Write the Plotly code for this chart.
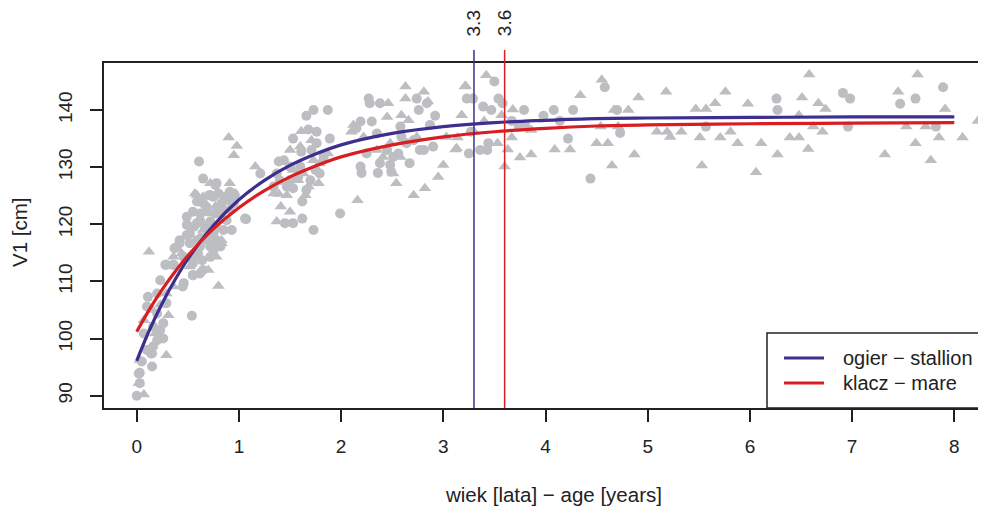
import plotly.graph_objects as go

# ---------------- data ----------------
circle_age = [0.00, 0.03, 0.02, 0.05, 0.10, 0.15, 0.14, 0.20, 0.23, 0.26, 0.16, 0.10, 0.11, 0.20, 0.23,
              0.28, 0.36, 0.29, 0.16, 0.07, 0.20, 0.26, 0.45, 0.39, 0.15, 0.03,
              0.55, 0.55, 0.49, 0.59, 0.62, 0.65, 0.69, 0.72, 0.75, 0.78, 0.82, 0.85, 0.88, 0.91, 0.95,
              0.93, 0.61, 0.65, 0.71, 0.78, 0.54, 0.42, 0.52, 0.60, 0.69, 0.64, 0.67, 0.77, 0.83, 0.80,
              0.86, 0.91, 1.07, 0.56, 0.49, 0.75, 0.59, 0.62, 0.72, 0.82, 0.90, 0.95,
              0.77, 0.72, 0.55, 0.62, 0.49, 0.52, 0.42, 0.37, 0.29, 0.36, 0.46, 0.55, 0.46, 0.55, 0.65,
              0.72, 0.68, 0.78, 0.85, 0.88, 0.96, 1.06, 0.82, 0.75, 0.62, 0.68, 0.59,
              1.21, 1.39, 1.44, 1.53, 1.45, 1.53, 1.62, 1.62, 1.73, 1.66, 1.73, 1.87, 1.68, 1.76, 1.89,
              1.75, 1.79, 1.53, 1.50, 1.58, 1.37, 1.34, 1.99, 1.61, 1.71, 1.83, 1.76, 1.60, 1.50, 1.40,
              1.47, 1.66, 1.70,
              2.15, 2.19, 2.27, 2.28, 2.38, 2.30, 2.19, 2.20, 2.38, 2.36, 2.45, 2.48, 2.49, 2.58, 2.59,
              2.71, 2.77, 2.74, 2.76, 2.92, 2.84, 2.87, 2.81, 2.56, 2.64, 2.51, 2.25, 3.25, 3.23, 3.29,
              2.35, 2.67, 2.90,
              3.50, 3.54, 3.39, 3.47, 3.58, 3.79, 3.98, 4.08, 4.27, 4.14, 4.22, 3.67, 3.80, 3.36, 3.43,
              3.44, 4.44, 4.58, 4.70, 4.73, 6.26, 6.27, 6.91, 6.98, 6.96, 7.47, 7.62, 7.89, 7.82, 5.57,
              3.74, 3.27]
circle_v1 = [90.0, 92.2, 93.9, 96.0, 98.0, 95.1, 97.4, 99.7, 101.5, 100.0, 102.1, 105.6, 107.3, 107.9, 110.2,
             112.9, 112.9, 106.2, 98.6, 100.9, 104.4, 102.7, 109.1, 116.0, 97.4, 94.0,
             111.1, 114.3, 118.1, 120.2, 121.9, 123.7, 122.8, 120.5, 118.4, 117.2, 116.1, 119.0, 120.7, 122.5, 123.7,
             119.0, 131.0, 128.0, 125.1, 127.2, 104.0, 116.7, 116.7, 114.9, 117.2, 113.7, 119.6, 121.9, 123.7, 125.4,
             124.8, 125.7, 120.9, 119.6, 121.3, 124.8, 117.2, 111.4, 116.1, 121.9, 124.2, 125.4,
             126.9, 125.1, 122.2, 120.7, 119.9, 118.4, 117.2, 115.8, 112.9, 112.9, 114.3, 113.2, 109.7, 111.1, 112.0,
             114.3, 117.8, 119.3, 122.5, 124.8, 125.1, 121.0, 116.7, 115.5, 116.1, 123.1, 124.0,
             128.9, 131.0, 131.2, 135.0, 120.2, 120.2, 121.0, 124.0, 119.0, 139.0, 140.0, 140.0, 136.6, 136.2, 135.0,
             129.5, 128.9, 126.3, 127.7, 128.3, 128.9, 126.6, 121.9, 132.7, 133.0, 131.8, 134.2, 130.1, 130.1, 127.7,
             126.6, 126.0, 127.7,
             136.8, 138.0, 142.0, 141.2, 141.2, 138.0, 130.1, 129.0, 130.7, 129.0, 133.0, 130.4, 129.2, 137.1, 135.3,
             134.7, 133.0, 142.0, 140.0, 139.0, 141.2, 137.4, 133.0, 132.4, 134.2, 131.8, 132.4, 132.4, 142.0, 142.0,
             135.9, 130.7, 133.6,
             145.0, 142.0, 140.6, 140.0, 141.2, 140.0, 139.0, 140.0, 140.0, 138.1, 135.0, 138.1, 137.4, 133.0, 133.0,
             134.2, 128.0, 144.0, 140.0, 136.0, 142.0, 140.0, 143.0, 142.0, 137.1, 141.1, 142.0, 144.0, 137.1, 137.1,
             137.1, 136.2]

triangle_age = [0.07, 0.12, 0.02, 0.07, 0.29, 0.31, 0.18, 0.23, 0.15, 0.03, 0.29, 0.36,
                0.59, 0.72, 0.90, 0.98, 0.95, 0.80, 0.78, 0.70, 0.65, 0.82, 0.91, 0.77, 0.62, 0.52,
                0.69, 0.83, 0.44, 0.62, 0.57, 0.65, 0.83, 0.36,
                1.16, 1.37, 1.41, 1.50, 1.47, 1.39, 1.34, 1.61, 1.71, 1.60, 1.50, 1.68, 1.65, 1.53, 1.73,
                1.63, 1.79, 1.87, 1.78, 1.58,
                2.16, 2.46, 2.63, 2.63, 2.81, 2.85, 2.45, 2.59, 2.66, 2.71, 2.82, 2.95, 3.00, 2.54, 2.51,
                2.48, 2.10, 2.12, 2.22, 3.13, 3.18, 3.21, 3.03, 2.35, 2.74, 2.58, 2.41,
                3.42, 3.22, 3.18, 3.12, 3.60, 3.75, 3.86, 4.09, 4.24, 3.68, 3.86, 4.55, 4.34, 4.91, 5.18,
                4.65, 4.87, 4.50, 4.61, 4.67, 4.81, 5.09, 5.22, 5.33, 5.47, 5.53, 5.57, 5.66, 5.76, 5.88,
                5.98, 6.11, 6.06, 6.27, 6.39, 6.48, 6.57, 6.58, 6.51, 6.67, 6.74, 6.71, 6.62, 6.48, 7.32,
                7.45, 7.53, 7.62, 7.64, 7.77, 7.85, 7.91, 8.08, 8.23, 7.72, 5.81, 5.51, 5.71, 5.19, 4.54,
                4.71, 3.53, 3.63, 3.40, 3.14, 3.30, 3.67, 3.57]
triangle_v1 = [90.2, 115.2, 92.2, 103.2, 97.1, 104.1, 100.9, 105.9, 105.0, 96.2, 107.9, 109.1,
               125.1, 127.2, 135.2, 133.7, 132.1, 109.2, 114.3, 112.0, 124.8, 120.7, 127.2, 123.1, 117.8, 112.6,
               121.9, 117.2, 114.9, 120.2, 125.4, 119.0, 116.7, 114.3,
               130.1, 120.5, 123.1, 122.2, 125.1, 125.3, 125.4, 136.3, 134.7, 133.6, 133.0, 126.6, 125.1, 129.5, 131.2,
               128.9, 130.7, 132.4, 127.2, 127.7,
               124.2, 141.2, 144.1, 142.0, 143.2, 141.5, 138.8, 139.1, 138.2, 125.1, 126.3, 128.3, 130.4, 127.2, 128.9,
               134.2, 136.2, 137.4, 135.3, 133.3, 139.1, 144.1, 135.3, 133.0, 135.3, 131.8, 131.8,
               146.1, 144.2, 139.1, 133.1, 130.1, 131.7, 132.2, 133.1, 133.1, 140.1, 136.5, 145.3, 142.6, 142.2, 143.2,
               130.3, 132.2, 134.2, 134.2, 140.0, 140.0, 136.2, 135.3, 136.2, 140.2, 130.3, 140.2, 141.2, 143.2, 134.2,
               141.1, 134.2, 129.1, 132.2, 135.2, 135.2, 133.2, 146.2, 142.2, 141.2, 140.2, 136.2, 137.1, 139.1, 132.2,
               143.2, 137.1, 134.2, 146.2, 131.2, 135.2, 140.2, 135.2, 138.1, 137.1, 136.2, 135.2, 135.2, 136.2, 137.1,
               137.1, 134.2, 133.1, 138.1, 135.2, 136.2, 135.2, 139.1]

# fitted growth curves
curve_age = [0, 0.125, 0.25, 0.375, 0.5, 0.75, 1, 1.25, 1.5, 1.75, 2, 2.5, 3, 3.5, 4, 4.5, 5, 6, 7, 8]
stallion_v1 = [96.1, 101.5, 106.2, 110.3, 113.9, 119.8, 124.3, 127.7, 130.3, 132.3, 133.9, 135.9, 137.1,
               137.8, 138.2, 138.5, 138.6, 138.7, 138.8, 138.8]
mare_v1 = [101.2, 105.1, 108.6, 111.7, 114.5, 119.2, 122.9, 125.9, 128.3, 130.2, 131.8, 133.9, 135.3,
           136.2, 136.8, 137.2, 137.4, 137.6, 137.7, 137.8]

curve_names = ["ogier − stallion", "klacz − mare"]
maturity_age = [3.3, 3.6]
maturity_labels = ["3.3", "3.6"]
x_ticks = [0, 1, 2, 3, 4, 5, 6, 7, 8]
y_ticks = [90, 100, 110, 120, 130, 140]

# ---------------- styling ----------------
BLUE = "#3D2E8F"
RED = "#D81E23"
GRAY = "#BDBEC2"
INK = "#222222"
FONT = "Liberation Sans, Arial, Helvetica, sans-serif"

fig = go.Figure()
fig.add_trace(go.Scatter(x=circle_age, y=circle_v1, mode="markers", showlegend=False,
                         marker=dict(symbol="circle", size=10, color=GRAY, line=dict(width=0))))
fig.add_trace(go.Scatter(x=triangle_age, y=triangle_v1, mode="markers", showlegend=False,
                         marker=dict(symbol="triangle-up", size=11, color=GRAY, line=dict(width=0))))
fig.add_trace(go.Scatter(x=curve_age, y=stallion_v1, mode="lines", name=curve_names[0], showlegend=False,
                         line=dict(color=BLUE, width=3.2, shape="spline", smoothing=1.0)))
fig.add_trace(go.Scatter(x=curve_age, y=mare_v1, mode="lines", name=curve_names[1], showlegend=False,
                         line=dict(color=RED, width=3.2, shape="spline", smoothing=1.0)))

# page geometry: the browser puts the figure 8 px from the page's top-left corner
OFF = 8
PAGE_W, PAGE_H = 986, 509
L, T, R_EDGE, B_EDGE = 104, 63, 986, 408      # plot box in page pixels
W, H = PAGE_W - OFF, PAGE_H - OFF
ml, mt = L - OFF, T - OFF
mb = H - (B_EDGE - OFF)
mr = W - (R_EDGE - OFF)
plot_h = B_EDGE - T
plot_w = R_EDGE - L

def py(p):  # page pixel row -> paper y
    return (B_EDGE - p) / plot_h

def px(p):  # page pixel col -> paper x
    return (p - L) / plot_w

# vertical maturity lines
for a, lab, col in zip(maturity_age, maturity_labels, [BLUE, RED]):
    fig.add_shape(type="line", xref="x", yref="paper", x0=a, x1=a, y0=0, y1=py(50),
                  line=dict(color=col, width=1.5), layer="above")
    fig.add_annotation(x=a, xref="x", y=py(23.5), yref="paper", text=lab, textangle=-90,
                       showarrow=False, xanchor="center", yanchor="middle",
                       font=dict(family=FONT, size=19, color=INK))

# legend box (bottom-right, drawn as in the original)
fig.add_shape(type="rect", xref="paper", yref="paper", x0=px(767), x1=px(1010), y0=0, y1=py(333),
              line=dict(color=INK, width=1.5), fillcolor="white", layer="above")
for yy, col, name in [(358, BLUE, curve_names[0]), (383, RED, curve_names[1])]:
    fig.add_shape(type="line", xref="paper", yref="paper", x0=px(784), x1=px(824), y0=py(yy), y1=py(yy),
                  line=dict(color=col, width=3.2), layer="above")
    fig.add_annotation(x=px(841), y=py(yy), xref="paper", yref="paper", text=name, showarrow=False,
                       xanchor="left", yanchor="middle", font=dict(family=FONT, size=20, color=INK))

# axis titles
fig.add_annotation(x=px(553), y=py(495), xref="paper", yref="paper", text="wiek [lata] − age [years]",
                   showarrow=False, xanchor="center", yanchor="middle",
                   font=dict(family=FONT, size=20.5, color=INK))
fig.add_annotation(x=px(19), y=py(232), xref="paper", yref="paper", text="V1 [cm]", textangle=-90,
                   showarrow=False, xanchor="center", yanchor="middle",
                   font=dict(family=FONT, size=20.5, color=INK))

fig.update_layout(
    width=W, height=H,
    margin=dict(l=ml, r=mr, t=mt, b=mb, pad=0),
    paper_bgcolor="white", plot_bgcolor="white",
    font=dict(family=FONT, size=19, color=INK),
    showlegend=False,
    xaxis=dict(range=[-0.32, 8.31], tickvals=x_ticks, ticktext=[str(v) for v in x_ticks],
               ticks="outside", ticklen=12, tickwidth=1.5, tickcolor=INK,
               showline=True, linecolor=INK, linewidth=1.5, mirror=True,
               showgrid=False, zeroline=False, ticklabelstandoff=8,
               tickfont=dict(family=FONT, size=19, color=INK)),
    yaxis=dict(range=[87.85, 148.23], tickvals=y_ticks, ticktext=[str(v) for v in y_ticks],
               ticks="outside", ticklen=12, tickwidth=1.5, tickcolor=INK, tickangle=-90,
               showline=True, linecolor=INK, linewidth=1.5, mirror=False,
               showgrid=False, zeroline=False, ticklabelstandoff=11,
               tickfont=dict(family=FONT, size=19, color=INK)),
)

fig.write_html("out.html")
